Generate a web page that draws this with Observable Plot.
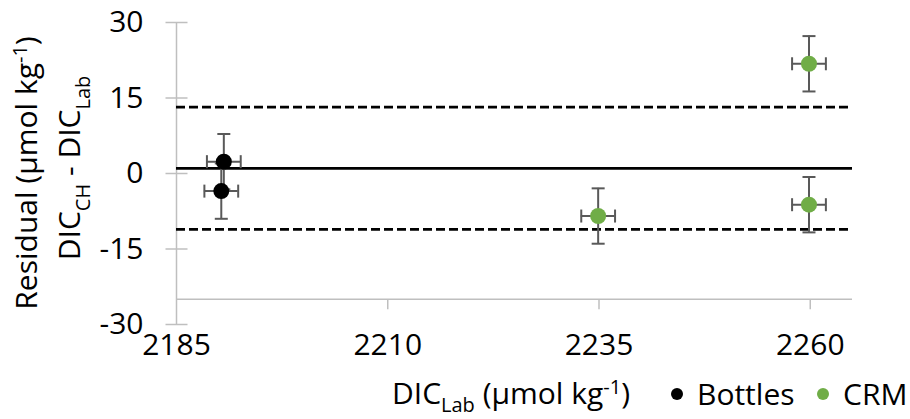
<!DOCTYPE html>
<html>
<head>
<meta charset="utf-8">
<script src="https://cdn.jsdelivr.net/npm/d3@7"></script>
<script src="https://cdn.jsdelivr.net/npm/@observablehq/plot@0.6"></script>
<style>
  html, body { margin: 0; padding: 0; background: #ffffff; }
  #chart svg { display: block; }
</style>
</head>
<body>
<div id="chart"></div>
<script>
// ---- Data ----
const bottleX = [2190.6, 2190.3];
const bottleY = [2.35, -3.5];
const bottleErrX = [2.0, 2.0];
const bottleErrY = [5.5, 5.5];

const crmX = [2234.9, 2259.85, 2259.85];
const crmY = [-8.45, 21.8, -6.2];
const crmErrX = [2.0, 2.0, 2.0];
const crmErrY = [5.5, 5.5, 5.5];

const meanResidual = 1.0;
const upperLimit = 13.2;
const lowerLimit = -11.1;

const xTicks = [2185, 2210, 2235, 2260];
const yTicks = [-30, -15, 0, 15, 30];
const xDomain = [2185, 2265];
const yDomain = [-30, 30];
const xAxisCrossAt = -25;

const seriesNames = ["Bottles", "CRM"];
const seriesColors = ["#000000", "#70AD47"];

// ---- Build table ----
const points = [
  ...bottleX.map((x, i) => ({series: "Bottles", x, y: bottleY[i], ex: bottleErrX[i], ey: bottleErrY[i]})),
  ...crmX.map((x, i) => ({series: "CRM", x, y: crmY[i], ex: crmErrX[i], ey: crmErrY[i]}))
];

// custom line symbols (pixel-sized caps / ticks)
const capH = (h) => ({draw(ctx) { ctx.moveTo(-h, 0); ctx.lineTo(h, 0); }});
const capV = (h) => ({draw(ctx) { ctx.moveTo(0, -h); ctx.lineTo(0, h); }});
const tickDown = (len) => ({draw(ctx) { ctx.moveTo(0, 0); ctx.lineTo(0, len); }});

const axisGray = "#bfbfbf";
const errGray = "#595959";
const font = "'Open Sans', 'Noto Sans', sans-serif";

const chart = Plot.plot({
  width: 910,
  height: 419,
  marginLeft: 176,
  marginRight: 58,
  marginTop: 22,
  marginBottom: 95,
  style: {fontFamily: font, fontSize: "30px", color: "#000", background: "#fff", overflow: "visible"},
  x: {domain: xDomain},
  y: {domain: yDomain},
  color: {domain: seriesNames, range: seriesColors},
  marks: [
    // axis lines
    Plot.ruleX([xDomain[0]], {y1: yDomain[0], y2: yDomain[1], stroke: axisGray, strokeWidth: 1.5}),
    Plot.ruleY([xAxisCrossAt], {x1: xDomain[0], x2: xDomain[1], stroke: axisGray, strokeWidth: 1.5}),
    // y tick marks crossing axis
    Plot.dot(yTicks, {x: () => xDomain[0], y: d => d, symbol: capH(11), fill: "none", stroke: axisGray, strokeWidth: 1.5}),
    // x tick marks below the crossing line
    Plot.dot(xTicks.slice(1), {x: d => d, y: () => xAxisCrossAt, symbol: tickDown(10), fill: "none", stroke: axisGray, strokeWidth: 1.5}),
    // tick labels
    Plot.axisY({ticks: yTicks, tickSize: 0, tickPadding: 33, tickFormat: d => String(d), label: null, fill: "#000"}),
    Plot.axisX({ticks: xTicks, tickSize: 0, tickPadding: 9, tickFormat: d => String(d), label: null, fill: "#000"}),
    // mean and limits
    Plot.ruleY([meanResidual], {x1: xDomain[0], x2: xDomain[1], stroke: "#000", strokeWidth: 2.7}),
    Plot.ruleY([upperLimit, lowerLimit], {x1: xDomain[0], x2: xDomain[1], stroke: "#000", strokeWidth: 2.7, strokeDasharray: "9,4"}),
    // error bars
    Plot.ruleX(points, {x: "x", y1: d => d.y - d.ey, y2: d => d.y + d.ey, stroke: errGray, strokeWidth: 2}),
    Plot.ruleY(points, {y: "y", x1: d => d.x - d.ex, x2: d => d.x + d.ex, stroke: errGray, strokeWidth: 2}),
    Plot.dot(points, {x: "x", y: d => d.y + d.ey, symbol: capH(6.5), fill: "none", stroke: errGray, strokeWidth: 2}),
    Plot.dot(points, {x: "x", y: d => d.y - d.ey, symbol: capH(6.5), fill: "none", stroke: errGray, strokeWidth: 2}),
    Plot.dot(points, {x: d => d.x + d.ex, y: "y", symbol: capV(6.5), fill: "none", stroke: errGray, strokeWidth: 2}),
    Plot.dot(points, {x: d => d.x - d.ex, y: "y", symbol: capV(6.5), fill: "none", stroke: errGray, strokeWidth: 2}),
    // markers
    Plot.dot(points, {x: "x", y: "y", r: 8, fill: "series", stroke: null})
  ]
});

document.getElementById("chart").appendChild(chart);

// ---- Titles and legend (rich text with sub/superscripts) ----
const svg = d3.select(chart);
const g = svg.append("g")
  .attr("font-family", font)
  .attr("font-size", 30)
  .attr("fill", "#000")
  .attr("text-anchor", "start");

function rich(textSel, parts, subShift = 10, supShift = -10) {
  // parts: [text, mode] with mode "", "sub", "sup"
  let shift = 0;
  parts.forEach(([t, mode]) => {
    const target = mode === "sub" ? subShift : mode === "sup" ? supShift : 0;
    const ts = textSel.append("tspan").attr("dy", target - shift).text(t);
    if (mode) ts.attr("font-size", 20);
    shift = target;
  });
}

// X axis title
const xt = g.append("text").attr("x", 392).attr("y", 404).attr("text-anchor", "start");
rich(xt, [["DIC", ""], ["Lab", "sub"], [" (µmol kg", ""], ["-1", "sup"], [")", ""]], 8, -10);

// Y axis title, two lines
const yt1 = g.append("text").attr("transform", "translate(36.5,173) rotate(-90)").attr("text-anchor", "middle");
rich(yt1, [["Residual (µmol kg", ""], ["-1", "sup"], [")", ""]]);
const yt2 = g.append("text").attr("transform", "translate(80,168) rotate(-90)").attr("text-anchor", "middle");
rich(yt2, [["DIC", ""], ["CH", "sub"], [" - DIC", ""], ["Lab", "sub"]]);

// Legend
const legendX = [677, 823];
seriesNames.forEach((name, i) => {
  g.append("circle").attr("cx", legendX[i]).attr("cy", 394).attr("r", 6).attr("fill", seriesColors[i]);
  g.append("text").attr("x", legendX[i] + 20).attr("y", 405).attr("text-anchor", "start").text(name);
});
</script>
</body>
</html>
